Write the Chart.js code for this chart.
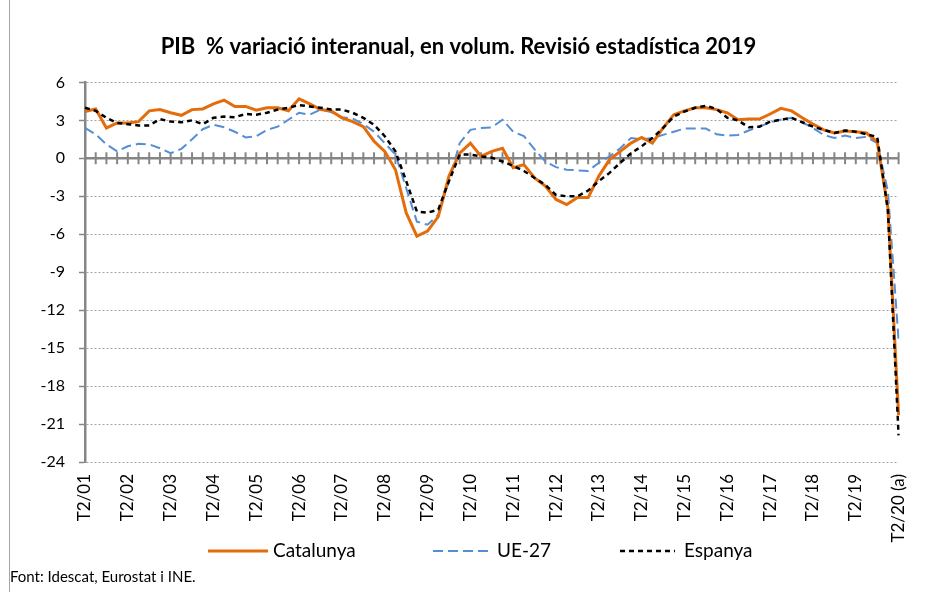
<!DOCTYPE html>
<html>
<head>
<meta charset="utf-8">
<script src="https://cdn.jsdelivr.net/npm/chart.js@4.4.1/dist/chart.umd.min.js"></script>
<style>
  body { margin: 0; background: #fff; }
  #wrap { position: relative; width: 931px; height: 592px; }
</style>
</head>
<body>
<div id="wrap"><canvas id="pibChart"></canvas></div>
<script>
// trimestres T2/01 ... T2/20
const quarters = [];
for (let y = 2001; y <= 2020; y++) {
  for (let q = 1; q <= 4; q++) {
    if (y === 2001 && q < 2) continue;
    if (y === 2020 && q > 2) continue;
    quarters.push('T' + q + '/' + String(y).slice(2));
  }
}
quarters[quarters.length - 1] = 'T2/20 (a)';

const catalunya = [
  3.7, 3.9, 2.4, 2.8, 2.8, 2.9, 3.75, 3.85, 3.6, 3.4, 3.85, 3.9, 4.3, 4.6, 4.1, 4.1,
  3.8, 4.0, 4.0, 3.75, 4.7, 4.3, 3.85, 3.75, 3.2, 2.9, 2.5, 1.35, 0.55, -0.9, -4.3, -6.15,
  -5.75, -4.6, -1.4, 0.4, 1.2, 0.15, 0.55, 0.8, -0.75, -0.5, -1.55, -2.2, -3.25, -3.65, -3.1, -3.1,
  -1.4, -0.1, 0.55, 1.2, 1.65, 1.2, 2.4, 3.45, 3.75, 4.0, 4.0, 3.85, 3.6, 3.05, 3.1, 3.1,
  3.5, 3.95, 3.75, 3.2, 2.7, 2.25, 2.0, 2.15, 2.1, 2.0, 1.3, -3.9, -20.3
];
const ue27 = [
  2.4, 1.9, 1.1, 0.55, 0.95, 1.15, 1.1, 0.8, 0.4, 0.75, 1.5, 2.3, 2.65, 2.45, 2.1, 1.65,
  1.75, 2.25, 2.5, 3.05, 3.6, 3.45, 3.85, 3.65, 3.25, 3.15, 2.7, 2.1, 1.2, 0.3, -2.35, -5.0,
  -5.25, -4.45, -1.8, 1.2, 2.25, 2.4, 2.45, 3.05, 2.1, 1.75, 0.7, -0.25, -0.7, -0.9, -0.95, -1.0,
  -0.35, 0.15, 0.8, 1.6, 1.5, 1.6, 1.85, 2.1, 2.35, 2.35, 2.35, 1.9, 1.8, 1.85, 2.2, 2.5,
  2.85, 3.05, 3.2, 2.85, 2.4, 1.85, 1.6, 1.8, 1.6, 1.7, 1.2, -2.6, -14.4
];
const espanya = [
  4.0, 3.75, 3.2, 2.8, 2.7, 2.6, 2.6, 3.1, 2.9, 2.85, 3.0, 2.7, 3.2, 3.3, 3.25, 3.5,
  3.45, 3.6, 3.85, 4.0, 4.2, 4.1, 4.0, 3.85, 3.85, 3.6, 3.2, 2.65, 1.75, 0.55, -1.8, -4.2,
  -4.3, -4.05, -1.8, 0.3, 0.3, 0.15, 0.05, -0.25, -0.6, -1.0, -1.55, -2.1, -2.9, -3.0, -3.0, -2.55,
  -1.8, -1.15, -0.35, 0.4, 0.95, 1.6, 2.4, 3.3, 3.7, 4.0, 4.15, 3.9, 3.2, 3.0, 2.45, 2.5,
  2.9, 3.05, 3.2, 2.85, 2.5, 2.25, 2.0, 2.2, 2.1, 1.9, 1.7, -4.1, -21.9
];

const yMin = -24;
const yMax = 6;
const yStep = 3;

document.addEventListener('DOMContentLoaded', function () {
  const ctx = document.getElementById('pibChart').getContext('2d');
  const axisGrey = '#868686';

  // eix horitzontal a 0 amb marques a cada trimestre
  const zeroAxis = {
    id: 'zeroAxis',
    beforeDatasetsDraw(chart) {
      const { ctx, chartArea, scales } = chart;
      const y0 = scales.y.getPixelForValue(0);
      ctx.save();
      ctx.strokeStyle = axisGrey;
      ctx.lineWidth = 2.5;
      ctx.beginPath();
      ctx.moveTo(chartArea.left, y0);
      ctx.lineTo(chartArea.right, y0);
      ctx.stroke();
      ctx.lineWidth = 2;
      ctx.beginPath();
      for (let i = 1; i < quarters.length; i++) {
        const x = scales.x.getPixelForValue(i);
        ctx.moveTo(x, y0 - 6);
        ctx.lineTo(x, y0 + 6);
      }
      ctx.stroke();
      ctx.restore();
    }
  };

  // llegenda i marc, com a Excel
  const excelLegend = {
    id: 'excelLegend',
    afterDraw(chart) {
      const ctx = chart.ctx;
      const items = [
        { ds: 0, x0: 208, x1: 268, tx: 273 },
        { ds: 1, x0: 433, x1: 490, tx: 497 },
        { ds: 2, x0: 620, x1: 675, tx: 684 }
      ];
      const y = 551;
      ctx.save();
      items.forEach(function (it) {
        const ds = chart.data.datasets[it.ds];
        ctx.strokeStyle = ds.borderColor;
        ctx.lineWidth = ds.borderWidth;
        ctx.setLineDash(ds.borderDash || []);
        ctx.beginPath();
        ctx.moveTo(it.x0, y);
        ctx.lineTo(it.x1, y);
        ctx.stroke();
        ctx.setLineDash([]);
        ctx.fillStyle = '#000';
        ctx.font = '19px Lato';
        ctx.textBaseline = 'middle';
        ctx.fillText(ds.label, it.tx, y);
      });
      ctx.strokeStyle = '#a6a6a6';
      ctx.lineWidth = 1;
      ctx.beginPath();
      ctx.moveTo(9.5, 0);
      ctx.lineTo(9.5, chart.height);
      ctx.stroke();
      ctx.restore();
    }
  };

  const data = {
    labels: quarters,
    datasets: [
      {
        label: 'Catalunya',
        data: catalunya,
        borderColor: 'rgb(228, 108, 10)',
        borderWidth: 3,
        order: 1
      },
      {
        label: 'UE-27',
        data: ue27,
        borderColor: 'rgb(85, 142, 213)',
        borderWidth: 2,
        borderDash: [10, 5],
        order: 2
      },
      {
        label: 'Espanya',
        data: espanya,
        borderColor: '#000',
        borderWidth: 2.5,
        borderDash: [5, 4],
        order: 0
      }
    ]
  };

  const config = {
    type: 'line',
    data: data,
    plugins: [zeroAxis, excelLegend],
    options: {
      responsive: true,
      maintainAspectRatio: false,
      animation: false,
      layout: { padding: { left: 10, right: 24, top: 0, bottom: 0 } },
      elements: {
        point: { radius: 0 },
        line: { tension: 0, fill: false }
      },
      scales: {
        x: {
          offset: false,
          grid: { display: false, drawTicks: false },
          border: { display: false },
          afterFit: function (scale) { scale.height = 102; },
          ticks: {
            autoSkip: false,
            maxRotation: 90,
            minRotation: 90,
            padding: 12,
            color: '#000',
            font: { family: 'Lato', size: 17 },
            callback: function (value, index) {
              return index % 4 === 0 ? this.getLabelForValue(value) : '';
            }
          }
        },
        y: {
          min: yMin,
          max: yMax,
          afterFit: function (scale) { scale.width = 75; },
          ticks: {
            stepSize: yStep,
            padding: 14,
            color: '#000',
            font: { family: 'Lato', size: 16 }
          },
          grid: {
            color: function (c) { return c.tick && c.tick.value === 0 ? 'rgba(0,0,0,0)' : '#a6a6a6'; },
            lineWidth: 1,
            tickLength: 6,
            tickColor: axisGrey,
            tickWidth: 1.5,
            tickBorderDash: []
          },
          border: { display: true, color: axisGrey, width: 2.5, dash: [2, 2] }
        }
      },
      plugins: {
        legend: { display: false },
        tooltip: { enabled: false },
        title: {
          display: true,
          text: 'PIB  % variació interanual, en volum. Revisió estadística 2019',
          color: '#000',
          font: { family: 'Lato', size: 22, weight: 'bold' },
          padding: { top: 34, bottom: 22 }
        },
        subtitle: {
          display: true,
          position: 'bottom',
          align: 'start',
          text: 'Font: Idescat, Eurostat i INE.',
          color: '#000',
          font: { family: 'Lato', size: 15 },
          padding: { top: 4, bottom: 6 }
        }
      }
    }
  };

  new Chart(ctx, config);
});
</script>
</body>
</html>
